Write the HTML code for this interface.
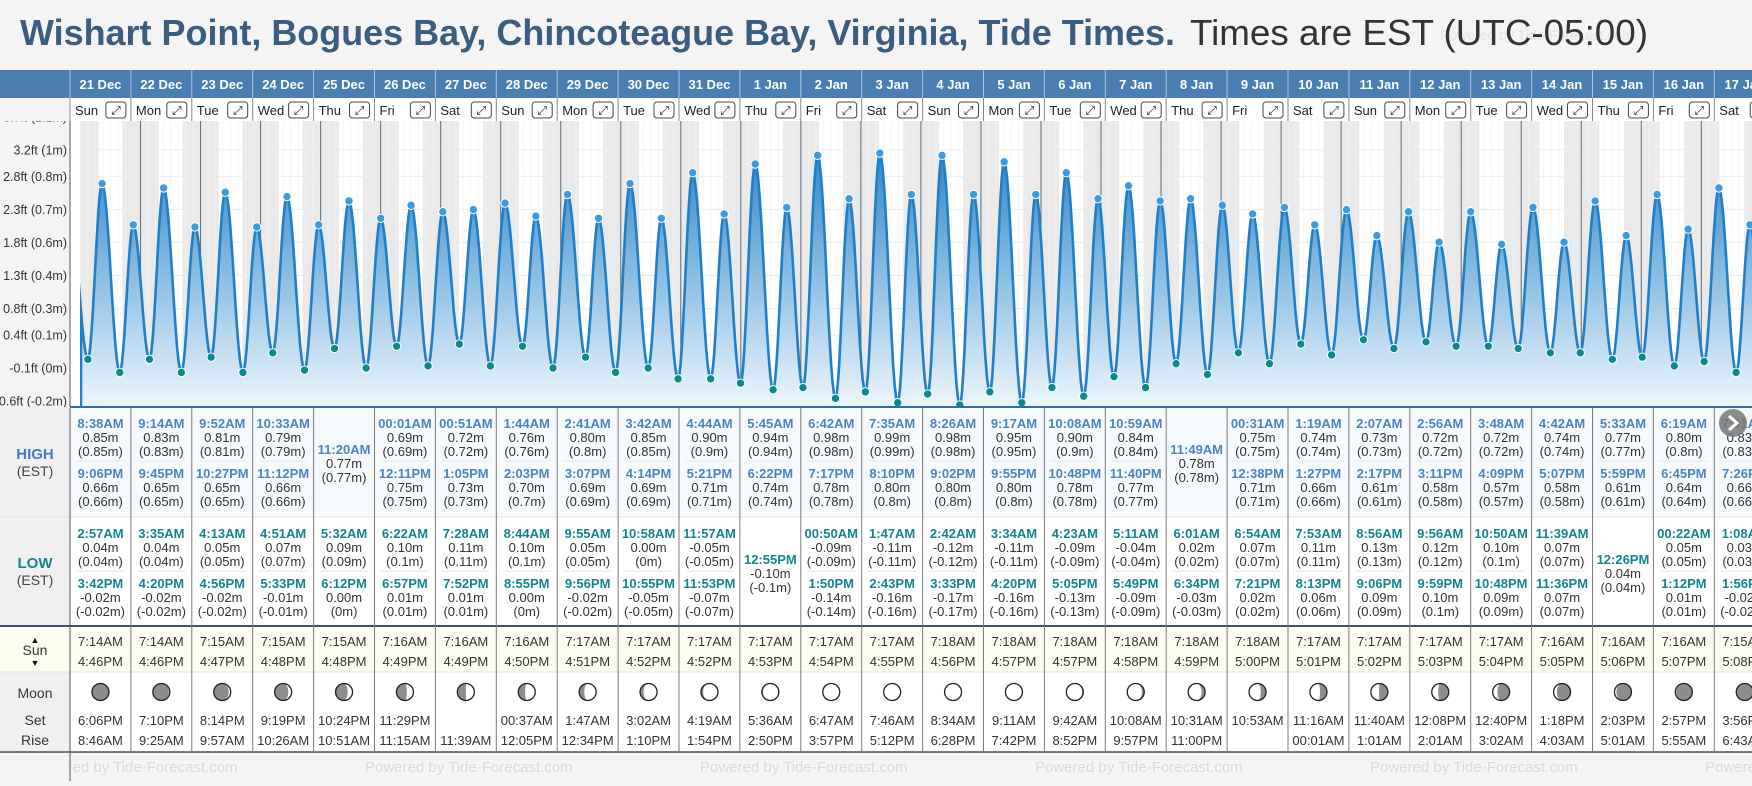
<!DOCTYPE html>
<html><head><meta charset="utf-8">
<style>
html,body{margin:0;padding:0;background:#f4f4f4;}
body{width:1752px;height:781px;overflow:hidden;font-family:"Liberation Sans",sans-serif;}
svg text{font-family:"Liberation Sans",sans-serif;}
</style></head>
<body>
<svg id="root" xmlns="http://www.w3.org/2000/svg" width="1752" height="781" viewBox="0 0 1752 781">
<defs>
<linearGradient id="tideFill" gradientUnits="userSpaceOnUse" x1="0" y1="140" x2="0" y2="407">
<stop offset="0" stop-color="#2a80c4"/>
<stop offset="0.45" stop-color="#7fb6df"/>
<stop offset="1" stop-color="#eef6fc"/>
</linearGradient>
<clipPath id="chartClip"><rect x="80" y="121" width="1672" height="286"/></clipPath>
<clipPath id="axisClip"><rect x="0" y="121" width="70" height="286"/></clipPath>
<clipPath id="footClip"><rect x="71" y="752" width="1681" height="29"/></clipPath>
</defs>
<rect x="0" y="0" width="1752" height="781" fill="#f4f4f4"/>
<text x="20" y="45" font-size="36" font-weight="bold" fill="#3a5d80" textLength="1155" lengthAdjust="spacingAndGlyphs">Wishart Point, Bogues Bay, Chincoteague Bay, Virginia, Tide Times.</text>
<text x="1190" y="45" font-size="36" fill="#333" textLength="458" lengthAdjust="spacingAndGlyphs">Times are EST (UTC-05:00)</text>
<g id="chart"></g>
</svg>
<script>
const dates=["21 Dec","22 Dec","23 Dec","24 Dec","25 Dec","26 Dec","27 Dec","28 Dec","29 Dec","30 Dec","31 Dec","1 Jan","2 Jan","3 Jan","4 Jan","5 Jan","6 Jan","7 Jan","8 Jan","9 Jan","10 Jan","11 Jan","12 Jan","13 Jan","14 Jan","15 Jan","16 Jan","17 Jan"];
const dayNames=["Sun","Mon","Tue","Wed","Thu","Fri","Sat","Sun","Mon","Tue","Wed","Thu","Fri","Sat","Sun","Mon","Tue","Wed","Thu","Fri","Sat","Sun","Mon","Tue","Wed","Thu","Fri","Sat"];
const highTimes=[["8:38AM","9:06PM"],["9:14AM","9:45PM"],["9:52AM","10:27PM"],["10:33AM","11:12PM"],["11:20AM"],["00:01AM","12:11PM"],["00:51AM","1:05PM"],["1:44AM","2:03PM"],["2:41AM","3:07PM"],["3:42AM","4:14PM"],["4:44AM","5:21PM"],["5:45AM","6:22PM"],["6:42AM","7:17PM"],["7:35AM","8:10PM"],["8:26AM","9:02PM"],["9:17AM","9:55PM"],["10:08AM","10:48PM"],["10:59AM","11:40PM"],["11:49AM"],["00:31AM","12:38PM"],["1:19AM","1:27PM"],["2:07AM","2:17PM"],["2:56AM","3:11PM"],["3:48AM","4:09PM"],["4:42AM","5:07PM"],["5:33AM","5:59PM"],["6:19AM","6:45PM"],["7:01AM","7:26PM"]];
const highVals=[[0.85,0.66],[0.83,0.65],[0.81,0.65],[0.79,0.66],[0.77],[0.69,0.75],[0.72,0.73],[0.76,0.70],[0.80,0.69],[0.85,0.69],[0.90,0.71],[0.94,0.74],[0.98,0.78],[0.99,0.80],[0.98,0.80],[0.95,0.80],[0.90,0.78],[0.84,0.77],[0.78],[0.75,0.71],[0.74,0.66],[0.73,0.61],[0.72,0.58],[0.72,0.57],[0.74,0.58],[0.77,0.61],[0.80,0.64],[0.83,0.66]];
const lowTimes=[["2:57AM","3:42PM"],["3:35AM","4:20PM"],["4:13AM","4:56PM"],["4:51AM","5:33PM"],["5:32AM","6:12PM"],["6:22AM","6:57PM"],["7:28AM","7:52PM"],["8:44AM","8:55PM"],["9:55AM","9:56PM"],["10:58AM","10:55PM"],["11:57AM","11:53PM"],["12:55PM"],["00:50AM","1:50PM"],["1:47AM","2:43PM"],["2:42AM","3:33PM"],["3:34AM","4:20PM"],["4:23AM","5:05PM"],["5:11AM","5:49PM"],["6:01AM","6:34PM"],["6:54AM","7:21PM"],["7:53AM","8:13PM"],["8:56AM","9:06PM"],["9:56AM","9:59PM"],["10:50AM","10:48PM"],["11:39AM","11:36PM"],["12:26PM"],["00:22AM","1:12PM"],["1:08AM","1:56PM"]];
const lowVals=[[0.04,-0.02],[0.04,-0.02],[0.05,-0.02],[0.07,-0.01],[0.09,0.00],[0.10,0.01],[0.11,0.01],[0.10,0.00],[0.05,-0.02],[0.00,-0.05],[-0.05,-0.07],[-0.10],[-0.09,-0.14],[-0.11,-0.16],[-0.12,-0.17],[-0.11,-0.16],[-0.09,-0.13],[-0.04,-0.09],[0.02,-0.03],[0.07,0.02],[0.11,0.06],[0.13,0.09],[0.12,0.10],[0.10,0.09],[0.07,0.07],[0.04],[0.05,0.01],[0.03,-0.02]];
const edgeEvents=[[-1,"8:10PM",0.67],[28,"1:50AM",0.02]];
const sunRise=["7:14AM","7:14AM","7:15AM","7:15AM","7:15AM","7:16AM","7:16AM","7:16AM","7:17AM","7:17AM","7:17AM","7:17AM","7:17AM","7:17AM","7:18AM","7:18AM","7:18AM","7:18AM","7:18AM","7:18AM","7:17AM","7:17AM","7:17AM","7:17AM","7:16AM","7:16AM","7:16AM","7:15AM"];
const sunSet=["4:46PM","4:46PM","4:47PM","4:48PM","4:48PM","4:49PM","4:49PM","4:50PM","4:51PM","4:52PM","4:52PM","4:53PM","4:54PM","4:55PM","4:56PM","4:57PM","4:57PM","4:58PM","4:59PM","5:00PM","5:01PM","5:02PM","5:03PM","5:04PM","5:05PM","5:06PM","5:07PM","5:08PM"];
const moonTop=["6:06PM","7:10PM","8:14PM","9:19PM","10:24PM","11:29PM","","00:37AM","1:47AM","3:02AM","4:19AM","5:36AM","6:47AM","7:46AM","8:34AM","9:11AM","9:42AM","10:08AM","10:31AM","10:53AM","11:16AM","11:40AM","12:08PM","12:40PM","1:18PM","2:03PM","2:57PM","3:56PM"];
const moonBottom=["8:46AM","9:25AM","9:57AM","10:26AM","10:51AM","11:15AM","11:39AM","12:05PM","12:34PM","1:10PM","1:54PM","2:50PM","3:57PM","5:12PM","6:28PM","7:42PM","8:52PM","9:57PM","11:00PM","","00:01AM","1:01AM","2:01AM","3:02AM","4:03AM","5:01AM","5:55AM","6:43AM"];
const moonAge=[1.3,2.3,3.3,4.3,5.3,6.3,7.3,8.3,9.3,10.3,11.3,12.3,13.3,14.3,15.3,16.3,17.3,18.3,19.3,20.3,21.3,22.3,23.3,24.3,25.3,26.3,27.3,28.3];
const tickFt=[-0.6,-0.1,0.4,0.8,1.3,1.8,2.3,2.8,3.2,3.7];
const tickLabels=["-0.6ft (-0.2m)","-0.1ft (0m)","0.4ft (0.1m)","0.8ft (0.3m)","1.3ft (0.4m)","1.8ft (0.6m)","2.3ft (0.7m)","2.8ft (0.8m)","3.2ft (1m)","3.7ft (1.1m)"];

const NS="http://www.w3.org/2000/svg";
const G=document.getElementById('chart');
function el(tag,attrs,parent,txt){const e=document.createElementNS(NS,tag);for(const k in attrs)e.setAttribute(k,attrs[k]);if(txt!==undefined)e.textContent=txt;(parent||G).appendChild(e);return e;}
const X0=80.5,PX_DAY=60.03,Y0=368,PX_M=217;
const xT=t=>X0+t*PX_DAY;
const yM=m=>Y0-m*PX_M;
const yFt=ft=>Y0-(ft*0.3048+0.03)*PX_M+6.5;
function hrs(s){const m=s.match(/(\d+):(\d+)(AM|PM)/);let h=+m[1]%12;if(m[3]==="PM")h+=12;return h+(+m[2])/60;}
const COL0=70,COLW=60.9;
const colX=i=>COL0+i*COLW;

// ---- header bars
el('rect',{x:0,y:70,width:1752,height:28,fill:'#4a7eb3'});
el('rect',{x:0,y:98,width:70,height:23,fill:'#f4f4f4'});
el('rect',{x:70,y:98,width:1682,height:23,fill:'#fff'});
dates.forEach((d,i)=>{
  const x=colX(i);
  const t=el('text',{x:x+COLW/2,y:89,'text-anchor':'middle','font-size':13,'font-weight':'bold',fill:'#fff'},G,d);
  
  
  el('line',{x1:x,y1:70,x2:x,y2:98,stroke:'#a9c2dc','stroke-width':1});
  el('line',{x1:x,y1:98,x2:x,y2:121,stroke:'#888','stroke-width':1});
  const dn=el('text',{x:x+5,y:115,'font-size':13,fill:'#222'},G,dayNames[i]);
  
  
  const b=el('g',{});
  
  
  el('rect',{x:x+COLW-25,y:102,width:20,height:16,rx:3,fill:'#fff',stroke:'#444','stroke-width':1},b);
  el('text',{x:x+COLW-15,y:114.5,'text-anchor':'middle','font-size':12,fill:'#222'},b,'⤢');
});

// ---- chart background
el('rect',{x:70,y:121,width:1682,height:286,fill:'#fff'});
el('rect',{x:0,y:121,width:70,height:286,fill:'#f4f4f4'});
const bg=el('g',{'clip-path':'url(#chartClip)'});


for(let i=0;i<=28;i++){
  const prevSet=i>0?hrs(sunSet[i-1]):hrs(sunSet[0]);
  const rise=i<28?hrs(sunRise[i]):7.25;
  const xa=xT(i-1+prevSet/24),xb=xT(i+rise/24);
  el('rect',{x:xa,y:121,width:xb-xa,height:286,fill:'#e9e9e9'},bg);
}
for(let h=0;h<29*8;h++){const x=xT(h/8);el('line',{x1:x,y1:121,x2:x,y2:407,stroke:'#f2f2f2','stroke-width':1,opacity:0.7},bg);}
tickFt.forEach(f=>{el('line',{x1:80,y1:yFt(f)-6.5,x2:1752,y2:yFt(f)-6.5,stroke:'#ececec','stroke-width':1},bg);});
for(let i=1;i<=28;i++){const x=xT(i);el('line',{x1:x,y1:121,x2:x,y2:407,stroke:'#5b6b7f','stroke-width':1},bg);}

// axis labels
const ax=el('g',{'clip-path':'url(#axisClip)'});
tickFt.forEach((f,i)=>{
  const t=el('text',{x:67,y:yFt(f)-2,'text-anchor':'end','font-size':12.5,fill:'#333'},ax,tickLabels[i]);
  
  
});

// ---- tide events
const events=[];
highTimes.forEach((arr,d)=>arr.forEach((s,k)=>events.push({t:d+hrs(s)/24,v:highVals[d][k],hi:true})));
lowTimes.forEach((arr,d)=>arr.forEach((s,k)=>events.push({t:d+hrs(s)/24,v:lowVals[d][k],hi:false})));
edgeEvents.forEach(e=>events.push({t:e[0]+hrs(e[1])/24,v:e[2],hi:null}));
events.sort((a,b)=>a.t-b.t);
let pts=[];
for(let i=0;i<events.length-1;i++){
  const a=events[i],b=events[i+1];
  for(let s=0;s<12;s++){const f=s/12;const v=a.v+(b.v-a.v)*(1-Math.cos(Math.PI*f))/2;pts.push([xT(a.t+(b.t-a.t)*f),yM(v)]);}
}
const last=events[events.length-1];pts.push([xT(last.t),yM(last.v)]);
const lineD='M'+pts.map(p=>p[0].toFixed(1)+','+p[1].toFixed(1)).join('L');
const cg=el('g',{'clip-path':'url(#chartClip)'});
const area=el('path',{d:lineD+`L${pts[pts.length-1][0].toFixed(1)},407L${pts[0][0].toFixed(1)},407Z`,fill:'url(#tideFill)'},cg);


const ln=el('path',{d:lineD,fill:'none',stroke:'#1f7fc8','stroke-width':2.6,'stroke-linejoin':'round'},cg);


el('line',{x1:81,y1:yM(0.3)+8,x2:81,y2:407,stroke:'#1f7fc8','stroke-width':2.6},cg);
events.forEach(e=>{
  if(e.hi===null)return;
  const c=el('circle',{cx:xT(e.t),cy:yM(e.v),r:4.2,fill:e.hi?'#3a9be0':'#0b8a8e',stroke:'#fff','stroke-width':1},cg);
  
  
});
el('line',{x1:70,y1:407,x2:1752,y2:407,stroke:'#2f6fa8','stroke-width':2});
el('line',{x1:70,y1:121,x2:70,y2:407,stroke:'#555','stroke-width':1});

// ---- table
el('rect',{x:0,y:408,width:70,height:344,fill:'#f0f0f0'});
el('rect',{x:70,y:408,width:1682,height:109,fill:'#f6fafe'});
el('rect',{x:70,y:517,width:1682,height:109,fill:'#fff'});
el('rect',{x:70,y:627,width:1682,height:45,fill:'#fdfdef'});
el('rect',{x:0,y:627,width:70,height:45,fill:'#fdfdef'});
el('rect',{x:70,y:672,width:1682,height:80,fill:'#fff'});
el('line',{x1:0,y1:517,x2:1752,y2:517,stroke:'#e4e4e4','stroke-width':1});
el('line',{x1:0,y1:626,x2:1752,y2:626,stroke:'#3d536b','stroke-width':2});
el('line',{x1:0,y1:672,x2:1752,y2:672,stroke:'#e4e4e4','stroke-width':1});
el('line',{x1:0,y1:752,x2:1752,y2:752,stroke:'#3d536b','stroke-width':1.5});

function lbl(x,y,txt,attrs,name){const t=el('text',Object.assign({x:x,y:y,'text-anchor':'middle','font-size':14,fill:'#333'},attrs||{}),G,txt);return t;}
lbl(35,459,'HIGH',{'font-weight':'bold',fill:'#3f7dbd','font-size':15},'high-row-label');
lbl(35,476,'(EST)',{fill:'#444'},'high-tz-label');
lbl(35,568,'LOW',{'font-weight':'bold',fill:'#12868f','font-size':15},'low-row-label');
lbl(35,585,'(EST)',{fill:'#444'},'low-tz-label');
lbl(35,643,'▲',{'font-size':9,fill:'#111'},'sunrise-arrow');
lbl(35,655,'Sun',{},'sun-row-label');
lbl(35,666,'▼',{'font-size':9,fill:'#111'},'sunset-arrow');
lbl(35,698,'Moon',{},'moon-row-label');
lbl(35,725,'Set',{},'moon-set-label');
lbl(35,745,'Rise',{},'moon-rise-label');

function tideCell(cx,times,vals,top,color,name){
  const offs=times.length===2?[top,top+50]:[top+26];
  times.forEach((s,k)=>{
    const y=offs[k];
    lbl(cx,y,s,{'font-weight':'bold',fill:color,'font-size':13},name+'-time');
    const v=vals[k];
    const vs=v.toFixed(2)+'m';
    const ps='('+(+v.toFixed(2)).toString()+'m)';
    lbl(cx,y+14,vs,{'font-size':13},name+'-value');
    lbl(cx,y+28,ps,{'font-size':13},name+'-value-paren');
  });
  if(times.length===2)el('line',{x1:cx-24,y1:top+33,x2:cx+24,y2:top+33,stroke:'#e6e6e6','stroke-width':1});
}
function moonPath(cx,cy,r,age){
  const ph=age/29.53*2*Math.PI;
  const rx=Math.abs(r*Math.cos(ph)).toFixed(2);
  if(ph<Math.PI){
    const sw=ph<Math.PI/2?0:1;
    return `M${cx},${cy-r}A${r},${r} 0 0 1 ${cx},${cy+r}A${rx},${r} 0 0 ${sw} ${cx},${cy-r}Z`;
  } else {
    const sw=ph<1.5*Math.PI?0:1;
    return `M${cx},${cy-r}A${r},${r} 0 0 0 ${cx},${cy+r}A${rx},${r} 0 0 ${sw} ${cx},${cy-r}Z`;
  }
}
dates.forEach((d,i)=>{
  const x=colX(i),cx=x+COLW/2;
  if(i>0)el('line',{x1:x,y1:408,x2:x,y2:752,stroke:'#7a7a7a','stroke-width':1});
  tideCell(cx,highTimes[i],highVals[i],428,'#4a84c2','high-tide');
  tideCell(cx,lowTimes[i],lowVals[i],538,'#12858f','low-tide');
  lbl(cx,646,sunRise[i],{'font-size':13},'sunrise-time');
  lbl(cx,666,sunSet[i],{'font-size':13},'sunset-time');
  const m=el('g',{});
  
  
  el('circle',{cx:cx,cy:692,r:8.5,fill:'#8d8d8d'},m);
  el('path',{d:moonPath(cx,692,8.5,moonAge[i]),fill:'#fff'},m);
  el('circle',{cx:cx,cy:692,r:8.5,fill:'none',stroke:'#222','stroke-width':1.3},m);
  if(moonTop[i])lbl(cx,725,moonTop[i],{'font-size':13},'moon-set-time');
  if(moonBottom[i])lbl(cx,745,moonBottom[i],{'font-size':13},'moon-rise-time');
});
el('line',{x1:70,y1:408,x2:70,y2:781,stroke:'#555','stroke-width':1});

// next arrow
const nb=el('g',{});


el('circle',{cx:1733,cy:423,r:14,fill:'#777',opacity:0.85},nb);
el('path',{d:'M1729,416L1737,423L1729,430',fill:'none',stroke:'#fff','stroke-width':3},nb);

// footer watermark
const fg=el('g',{'clip-path':'url(#footClip)'});
[30,365,700,1035,1370,1705].forEach(x=>{
  const t=el('text',{x:x,y:772,'font-size':15,fill:'#dadada'},fg,'Powered by Tide-Forecast.com');
  
  
});
const wm=el('text',{x:1440,y:40,'font-size':14,fill:'#e2e2e2'},G,'Powered by Tide-Forecast.com');


G.parentNode.insertBefore(wm,G.parentNode.children[2]);
</script>
</body></html>
